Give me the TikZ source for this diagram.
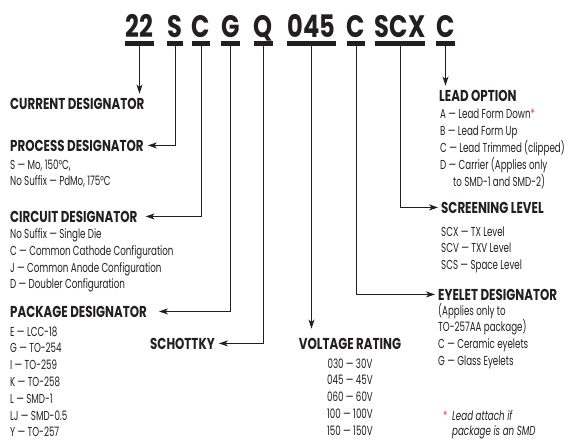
\documentclass[tikz,border=0pt]{standalone}
\usepackage{fontspec}
\setmainfont{Poppins}[FakeStretch=0.67]
\newfontfamily\headfont{Poppins}[FakeStretch=0.75]
\newfontfamily\codefont{Poppins}[FakeStretch=0.78]
\usetikzlibrary{arrows.meta}
\definecolor{inkblack}{RGB}{35,31,32}
\definecolor{starred}{RGB}{230,60,80}

\begin{document}
\begin{tikzpicture}[
        x=1pt, y=-1pt,
        every node/.style={inner sep=0pt, text=inkblack},
        code/.style={font=\codefont\bfseries\fontsize{31}{31}\selectfont, text depth=5.5pt, anchor=base},
        ul/.style={line width=4.5pt, draw=inkblack},
        head/.style={font=\headfont\bfseries\fontsize{15.8}{15.8}\selectfont, anchor=base west},
        item/.style={font=\fontsize{13}{13}\selectfont, anchor=base west},
        conn/.style={draw=inkblack, line width=0.9pt, -{Stealth[length=9pt,width=6pt,inset=2.5pt]}, shorten >=4pt}
    ]

        \useasboundingbox (0,0) rectangle (570,441);

        % Numero de parte
        \node[code] (n22) at (139.5,38) {22};
        \node[code] (nS) at (175,38) {S};
        \node[code] (nC1) at (201,38) {C};
        \node[code] (nG) at (230.5,38) {G};
        \node[code] (nQ) at (263.5,38) {Q};
        \node[code] (n045) at (311.5,38) {045};
        \node[code] (nC2) at (356,38) {C};
        \node[code] (nSCX) at (400,38) {SCX};
        \node[code] (nC3) at (445.5,38) {C};

        \foreach \n in {n22,nS,nC1,nG,nQ,n045,nC2,nSCX,nC3}
            \draw[ul] (\n.south west) -- (\n.south east);

        % Columna izquierda
        \node[head] (cur) at (10,110) {CURRENT DESIGNATOR};

        \node[head] (proc) at (10,151) {PROCESS DESIGNATOR};
        \foreach \txt [count=\i from 0] in {{S — Mo, 150°C,}, {No Suffix — PdMo, 175°C}}
            \node[item] (proc-\i) at (10,169+16.8*\i) {\txt};

        \node[head] (circ) at (10,222) {CIRCUIT DESIGNATOR};
        \foreach \txt [count=\i from 0] in {No Suffix — Single Die, C — Common Cathode Configuration,
                J — Common Anode Configuration, D — Doubler Configuration}
            \node[item] (circ-\i) at (10,238.5+16.8*\i) {\txt};

        \node[head] (pack) at (10,317) {PACKAGE DESIGNATOR};
        \foreach \txt [count=\i from 0] in {E — LCC-18, G — TO-254, I — TO-259, K — TO-258,
                L — SMD-1, LJ — SMD-0.5, Y — TO-257}
            \node[item] (pack-\i) at (10,336+16.8*\i) {\txt};

        % Centro
        \node[head] (sch) at (150,349) {SCHOTTKY};

        \node[head, anchor=base] (volt) at (350,349) {VOLTAGE RATING};
        \foreach \txt [count=\i from 0] in {030 — 30V, 045 — 45V, 060 — 60V, 100 — 100V, 150 — 150V}
            \node[item, anchor=base] (volt-\i) at (350,368+16.8*\i) {\txt};

        % Columna derecha
        \node[head] (lead) at (439,102) {LEAD OPTION};
        \foreach \txt [count=\i from 0] in {A — Lead Form Down\textcolor{starred}{*}, B — Lead Form Up,
                {C — Lead Trimmed (clipped)}, {D — Carrier (Applies only}}
            \node[item] (lead-\i) at (440,119+16.8*\i) {\txt};
        \node[item] (lead-4) at (453,186) {to SMD-1 and SMD-2)};

        \node[head] (scr) at (441,213) {SCREENING LEVEL};
        \foreach \txt [count=\i from 0] in {SCX — TX Level, SCV — TXV Level, SCS — Space Level}
            \node[item] (scr-\i) at (441,236+16.8*\i) {\txt};

        \node[head] (eye) at (438,300) {EYELET DESIGNATOR};
        \foreach \txt [count=\i from 0] in {{(Applies only to}, {TO-257AA package)}, C — Ceramic eyelets, G — Glass Eyelets}
            \node[item] (eye-\i) at (438,315+16.8*\i) {\txt};

        % Nota
        \node[item, text=starred] (star) at (443,420) {*};
        \node[item, font=\itshape\fontsize{13}{13}\selectfont] (note-0) at (452,420) {Lead attach if};
        \node[item, font=\itshape\fontsize{13}{13}\selectfont] (note-1) at (452,435.5) {package is an SMD};

        % Conectores
        \draw[conn, shorten >=5pt] (n22.south) -- (n22.south |- cur.north);
        \draw[conn] (nS.south) |- (proc.east);
        \draw[conn, shorten >=8pt] (nC1.south) |- (circ.east);
        \draw[conn, shorten >=12pt] (nG.south) |- (pack.east);
        \draw[conn] (nQ.south) |- (sch.east);
        \draw[conn, shorten >=9pt] (n045.south) -- (n045.south |- volt.north);
        \draw[conn, shorten >=3pt] (nC2.south) |- (eye.west);
        \draw[conn, shorten >=3pt] (nSCX.south) |- (scr.west);
        \draw[conn, shorten >=5pt] (nC3.south) -- (nC3.south |- lead.north);

    \end{tikzpicture}
\end{document}
